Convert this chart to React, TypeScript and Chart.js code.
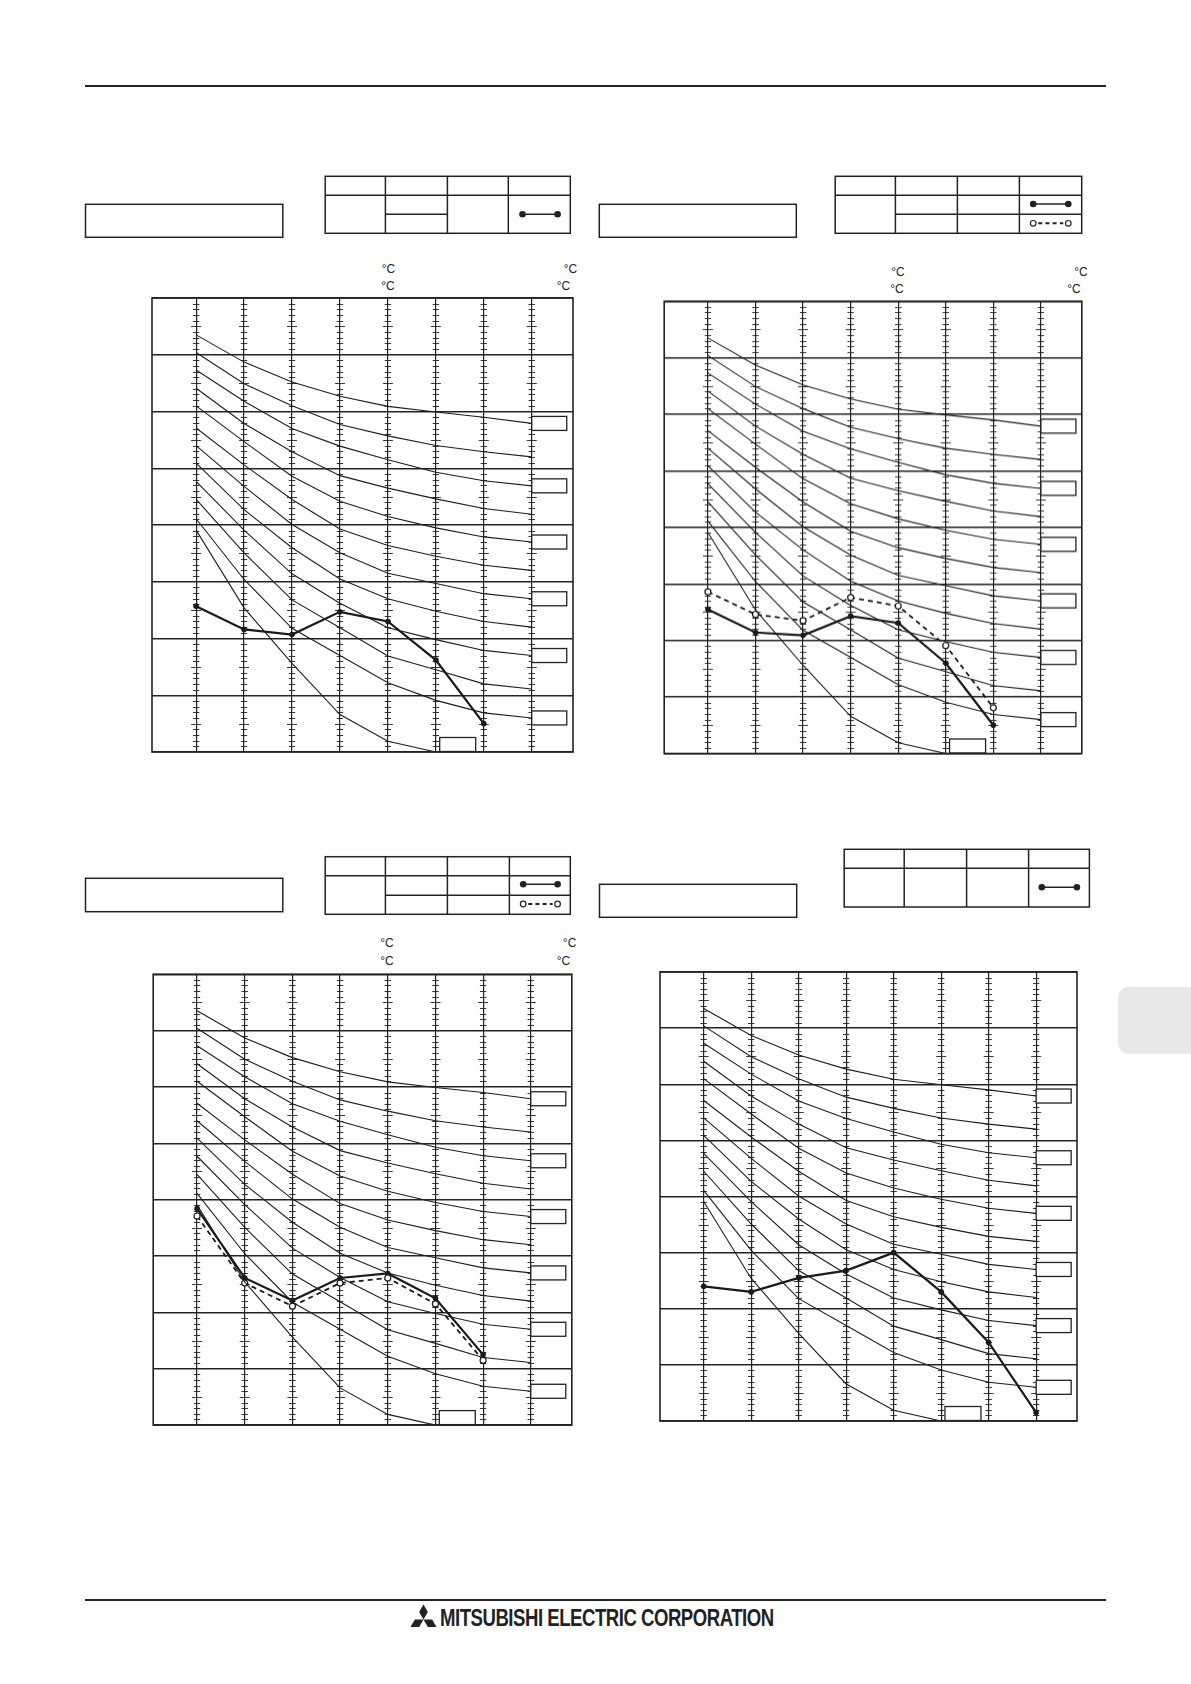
import React, { useEffect, useLayoutEffect, useRef, useState } from 'react';
import { Chart, registerables } from 'chart.js';

Chart.register(...registerables);

// column positions (the eight vertical scale lines)
const xPositions = [1, 2, 3, 4, 5, 6, 7, 8];

// background curve family, in grid bands (bottom = 0, top = 8)
const curve1 = [7.35, 6.87, 6.52, 6.27, 6.09, 5.99, 5.9, 5.79];
const curve2 = [7.04, 6.49, 6.1, 5.77, 5.57, 5.4, 5.29, 5.2];
const curve3 = [6.73, 6.18, 5.7, 5.39, 5.15, 4.93, 4.78, 4.69];
const curve4 = [6.41, 5.79, 5.29, 4.87, 4.65, 4.46, 4.29, 4.19];
const curve5 = [6.1, 5.47, 4.86, 4.42, 4.15, 3.95, 3.79, 3.7];
const curve6 = [5.71, 5.06, 4.45, 3.93, 3.64, 3.45, 3.29, 3.2];
const curve7 = [5.4, 4.68, 4.01, 3.51, 3.15, 2.97, 2.79, 2.7];
const curve8 = [5.09, 4.27, 3.6, 3.05, 2.7, 2.48, 2.3, 2.2];
const curve9 = [4.77, 3.91, 3.14, 2.62, 2.19, 1.98, 1.79, 1.7];
const curve10 = [4.45, 3.51, 2.68, 2.19, 1.69, 1.45, 1.2, 1.11];
const curve11 = [4.11, 3.04, 2.18, 1.7, 1.22, 0.91, 0.69, 0.6];
const curve12 = [3.91, 2.54, 1.56, 0.66, 0.19, 0.0];
const curveFamily = [curve1, curve2, curve3, curve4, curve5, curve6, curve7, curve8, curve9, curve10, curve11, curve12];
// curves whose right end carries a label box
const labelledCurves = [0, 2, 4, 6, 8, 10];

// measured series
const chart1Solid = [2.57, 2.16, 2.07, 2.47, 2.3, 1.62, 0.5];
const chart2Solid = [2.55, 2.14, 2.09, 2.43, 2.31, 1.6, 0.5];
const chart2Dashed = [2.86, 2.46, 2.35, 2.76, 2.61, 1.91, 0.81];
const chart3Solid = [3.84, 2.61, 2.21, 2.61, 2.69, 2.25, 1.25];
const chart3Dashed = [3.71, 2.52, 2.11, 2.52, 2.61, 2.15, 1.15];
const chart4Solid = [2.4, 2.3, 2.55, 2.68, 3.0, 2.3, 1.4, 0.15];

const INK = '#222';
const PAD = 4;
const X_MIN = 0.08;
const X_MAX = 8.86;

const toPoints = (values: number[]) => values.map((v, i) => ({ x: xPositions[i], y: v }));

const gridPaperPlugin = {
  id: 'gridPaper',
  beforeDatasetsDraw(chart: any) {
    const { ctx, scales } = chart;
    const x = scales.x;
    const y = scales.y;
    ctx.save();
    ctx.strokeStyle = INK;
    ctx.lineWidth = 0.9;
    // small scale marks on every vertical line
    for (const xv of xPositions) {
      const px = x.getPixelForValue(xv);
      for (let k = 1; k < 80; k++) {
        if (k % 10 === 0) continue;
        const py = Math.round(y.getPixelForValue(k / 10)) + 0.5;
        const half = k % 5 === 0 ? 5 : 3.2;
        ctx.beginPath();
        ctx.moveTo(px - half, py);
        ctx.lineTo(px + half, py);
        ctx.stroke();
      }
    }
    ctx.restore();
  },
  afterDatasetsDraw(chart: any) {
    const { ctx, chartArea: a, scales } = chart;
    const x = scales.x;
    const y = scales.y;
    ctx.save();
    ctx.strokeStyle = INK;
    ctx.fillStyle = '#fff';
    ctx.lineWidth = 1.3;
    // label boxes at the right ends of the curves
    const bx = x.getPixelForValue(8);
    for (const idx of labelledCurves) {
      const c = curveFamily[idx];
      const cy = y.getPixelForValue(c[c.length - 1]);
      ctx.fillRect(bx, cy - 7, 35, 14);
      ctx.strokeRect(bx, cy - 7, 35, 14);
    }
    // label box of the steepest curve, on the bottom edge
    const lx = x.getPixelForValue(6.08);
    ctx.fillRect(lx, a.bottom - 14.5, 36, 14);
    ctx.strokeRect(lx, a.bottom - 14.5, 36, 14);
    // frame
    ctx.lineWidth = 1.6;
    ctx.strokeRect(a.left, a.top, a.width, a.height);
    ctx.restore();
  },
};

type Box = { left: number; top: number; width: number; height: number };

function PlotPanel({ box, solid, dashed }: { box: Box; solid: number[]; dashed?: number[] }) {
  const canvasRef = useRef<HTMLCanvasElement>(null);

  useEffect(() => {
    if (!canvasRef.current) return;
    const datasets: any[] = curveFamily.map((c) => ({
      data: toPoints(c),
      borderColor: '#1e1e1e',
      borderWidth: 1.1,
      pointRadius: 0,
      tension: 0,
    }));
    if (dashed) {
      datasets.push({
        data: toPoints(dashed),
        borderColor: '#1a1a1a',
        borderWidth: 1.8,
        borderDash: [5, 4],
        pointRadius: 3,
        pointBackgroundColor: '#fff',
        pointBorderColor: '#1a1a1a',
        pointBorderWidth: 1.2,
      });
    }
    datasets.push({
      data: toPoints(solid),
      borderColor: '#1a1a1a',
      borderWidth: 2.2,
      pointRadius: 2.8,
      pointBackgroundColor: '#1a1a1a',
      pointBorderColor: '#1a1a1a',
      pointBorderWidth: 0,
    });

    const chart = new Chart(canvasRef.current, {
      type: 'line',
      data: { datasets },
      options: {
        animation: false,
        responsive: true,
        maintainAspectRatio: false,
        events: [],
        layout: { padding: PAD },
        plugins: { legend: { display: false }, tooltip: { enabled: false } },
        scales: {
          x: {
            type: 'linear',
            min: X_MIN,
            max: X_MAX,
            afterBuildTicks: (scale: any) => {
              scale.ticks = xPositions.map((v) => ({ value: v }));
            },
            ticks: { display: false },
            grid: { color: INK, lineWidth: 1.2, drawTicks: false },
            border: { display: false },
          },
          y: {
            type: 'linear',
            min: 0,
            max: 8,
            ticks: { display: false, stepSize: 1 },
            grid: { color: INK, lineWidth: 1.4, drawTicks: false },
            border: { display: false },
          },
        },
      } as any,
      plugins: [gridPaperPlugin],
    });
    return () => chart.destroy();
  }, [box, solid, dashed]);

  return (
    <div
      style={{
        position: 'absolute',
        left: box.left - PAD,
        top: box.top - PAD,
        width: box.width + 2 * PAD,
        height: box.height + 2 * PAD,
      }}
    >
      <canvas ref={canvasRef} />
    </div>
  );
}

const panels = [
  { box: { left: 152.3, top: 298.3, width: 421, height: 454 }, solid: chart1Solid },
  { box: { left: 663.3, top: 300.3, width: 420, height: 453.7 }, solid: chart2Solid, dashed: chart2Dashed },
  { box: { left: 152.3, top: 972.7, width: 421, height: 453.3 }, solid: chart3Solid, dashed: chart3Dashed },
  { box: { left: 660.3, top: 972.3, width: 417, height: 449 }, solid: chart4Solid },
];

const titleBoxes = [
  { x: 85.5, y: 204.3, w: 197.3, h: 33 },
  { x: 599.3, y: 204.3, w: 197, h: 33 },
  { x: 85.5, y: 878.3, w: 197.3, h: 33.4 },
  { x: 599.5, y: 884.3, w: 197.2, h: 33 },
];

const tables = [
  {
    x0: 325.2, x1: 570.3, y0: 176.3, y1: 233.3, cols: [385.4, 447.4, 508.3], row: 195.3,
    split: { y: 214.3, from: 385.4, to: 447.4 },
    marks: [{ y: 214.3, a: 522.5, b: 557.6, dashed: false }],
  },
  {
    x0: 835.2, x1: 1081.7, y0: 176.3, y1: 233.3, cols: [895.4, 957.4, 1019.4], row: 195.3,
    split: { y: 214.3, from: 895.4, to: 1081.7 },
    marks: [
      { y: 204, a: 1033.2, b: 1068.3, dashed: false },
      { y: 223.3, a: 1033.2, b: 1068.3, dashed: true },
    ],
  },
  {
    x0: 325.2, x1: 570.3, y0: 856.7, y1: 914.3, cols: [385.4, 447.4, 509.4], row: 875.7,
    split: { y: 895.3, from: 385.4, to: 570.3 },
    marks: [
      { y: 884.3, a: 523.2, b: 557.6, dashed: false },
      { y: 904, a: 523.2, b: 557.6, dashed: true },
    ],
  },
  {
    x0: 844.2, x1: 1089.4, y0: 849.3, y1: 907, cols: [904.2, 966.6, 1028.6], row: 868.3,
    split: null as null | { y: number; from: number; to: number },
    marks: [{ y: 887.3, a: 1041.8, b: 1076.9, dashed: false }],
  },
];

const degreeLabels = [
  { x: 388.5, y: 269 }, { x: 570.5, y: 269 }, { x: 388, y: 286 }, { x: 563.5, y: 286 },
  { x: 898, y: 272.3 }, { x: 1081, y: 272.3 }, { x: 897, y: 289.3 }, { x: 1074, y: 289.3 },
  { x: 387, y: 943.3 }, { x: 569.6, y: 943.3 }, { x: 387, y: 960.5 }, { x: 563.4, y: 960.5 },
];

function LogoMark({ cx, cy, L }: { cx: number; cy: number; L: number }) {
  const W = L / Math.sqrt(3);
  const dirs = [
    [0, -1],
    [-0.866, 0.5],
    [0.866, 0.5],
  ];
  return (
    <g fill={INK}>
      {dirs.map(([dx, dy], i) => {
        const nx = -dy;
        const ny = dx;
        const pts = [
          [cx, cy],
          [cx + (dx * L) / 2 + (nx * W) / 2, cy + (dy * L) / 2 + (ny * W) / 2],
          [cx + dx * L, cy + dy * L],
          [cx + (dx * L) / 2 - (nx * W) / 2, cy + (dy * L) / 2 - (ny * W) / 2],
        ];
        return <polygon key={i} points={pts.map((p) => p.join(',')).join(' ')} />;
      })}
    </g>
  );
}

function FooterText() {
  const ref = useRef<HTMLSpanElement>(null);
  const [scale, setScale] = useState(1);
  useLayoutEffect(() => {
    if (ref.current) {
      const w = ref.current.offsetWidth;
      if (w > 0) setScale(334 / w);
    }
  }, []);
  return (
    <div
      style={{
        position: 'absolute',
        left: 440,
        top: 1606,
        fontFamily: '"Liberation Sans", Arial, sans-serif',
        fontWeight: 700,
        fontSize: 24,
        lineHeight: '24px',
        letterSpacing: -0.6,
        whiteSpace: 'nowrap',
        color: INK,
        transform: `scaleX(${scale})`,
        transformOrigin: 'left top',
      }}
    >
      <span ref={ref} style={{ display: 'inline-block' }}>MITSUBISHI ELECTRIC CORPORATION</span>
    </div>
  );
}

export default function App() {
  return (
    <div
      style={{
        position: 'absolute',
        left: 0,
        top: 0,
        width: 1191,
        height: 1684,
        background: '#fff',
        overflow: 'hidden',
        fontFamily: '"Liberation Sans", Arial, sans-serif',
      }}
    >
      <svg width={1191} height={1684} style={{ position: 'absolute', left: 0, top: 0 }}>
        <line x1={85} x2={1106} y1={86} y2={86} stroke={INK} strokeWidth={2.2} />
        <line x1={85} x2={1106} y1={1600} y2={1600} stroke={INK} strokeWidth={2.2} />
        <rect x={1118} y={987} width={100} height={67} rx={11} fill="#e8e8e8" />
        {titleBoxes.map((b, i) => (
          <rect key={i} x={b.x} y={b.y} width={b.w} height={b.h} fill="none" stroke={INK} strokeWidth={1.5} />
        ))}
        {tables.map((t, i) => (
          <g key={i} stroke={INK} strokeWidth={1.5} fill="none">
            <rect x={t.x0} y={t.y0} width={t.x1 - t.x0} height={t.y1 - t.y0} />
            {t.cols.map((c, j) => (
              <line key={j} x1={c} x2={c} y1={t.y0} y2={t.y1} />
            ))}
            <line x1={t.x0} x2={t.x1} y1={t.row} y2={t.row} />
            {t.split && <line x1={t.split.from} x2={t.split.to} y1={t.split.y} y2={t.split.y} />}
            {t.marks.map((m, j) =>
              m.dashed ? (
                <g key={j}>
                  <line x1={m.a + 5} x2={m.b - 5} y1={m.y} y2={m.y} strokeWidth={2} strokeDasharray="4 3.2" />
                  <circle cx={m.a} cy={m.y} r={2.8} fill="#fff" strokeWidth={1.2} />
                  <circle cx={m.b} cy={m.y} r={2.8} fill="#fff" strokeWidth={1.2} />
                </g>
              ) : (
                <g key={j}>
                  <line x1={m.a} x2={m.b} y1={m.y} y2={m.y} strokeWidth={1.4} />
                  <circle cx={m.a} cy={m.y} r={3.3} fill={INK} stroke="none" />
                  <circle cx={m.b} cy={m.y} r={3.3} fill={INK} stroke="none" />
                </g>
              )
            )}
          </g>
        ))}
        <LogoMark cx={423.5} cy={1619.5} L={15} />
      </svg>

      {degreeLabels.map((d, i) => (
        <div
          key={i}
          style={{
            position: 'absolute',
            left: d.x,
            top: d.y,
            transform: 'translate(-50%, -50%)',
            fontSize: 12,
            lineHeight: '12px',
            color: INK,
            whiteSpace: 'nowrap',
          }}
        >
          °C
        </div>
      ))}

      {panels.map((p, i) => (
        <PlotPanel key={i} box={p.box} solid={p.solid} dashed={p.dashed} />
      ))}

      <FooterText />
    </div>
  );
}
